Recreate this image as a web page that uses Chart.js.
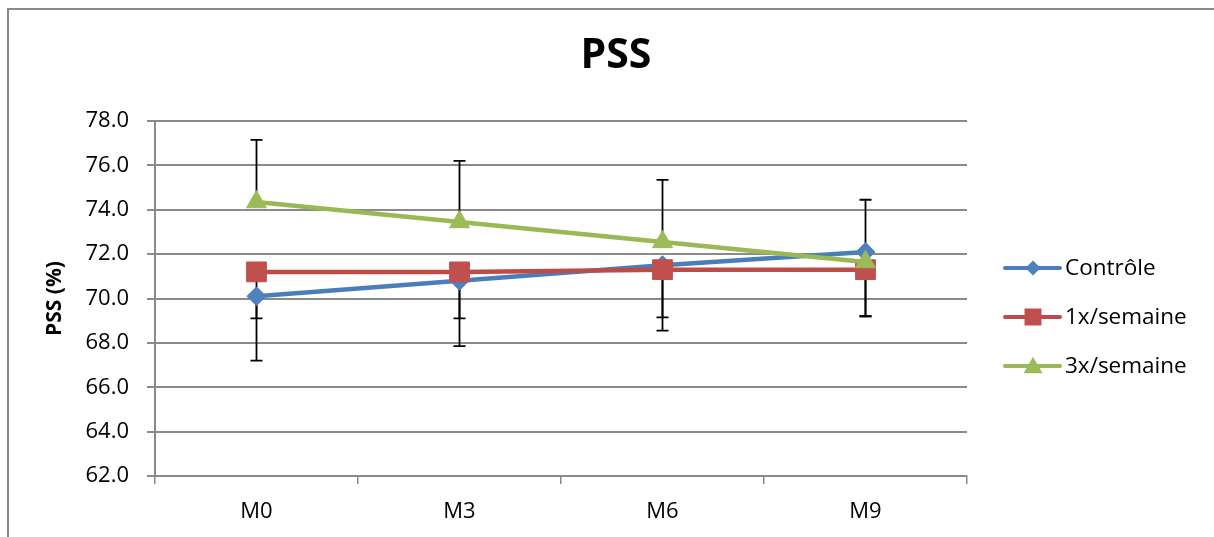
<!DOCTYPE html>
<html>
<head>
<meta charset="utf-8">
<title>PSS</title>
<script src="https://cdn.jsdelivr.net/npm/chart.js@4.4.1/dist/chart.umd.min.js"></script>
<style>
  html, body { margin: 0; padding: 0; background: #fff; }
  canvas { display: block; }
</style>
</head>
<body>
<canvas id="chart-pss" width="1214" height="537"></canvas>
<script>
const months = ['M0', 'M3', 'M6', 'M9']

const controle = [70.1, 70.8, 71.5, 72.1]
const controleErrDown = [2.9, 2.95, 2.95, 2.9]

const semaine1 = [71.2, 71.2, 71.3, 71.3]
const semaine1ErrDown = [2.1, 2.1, 2.15, 2.1]

const semaine3 = [74.35, 73.45, 72.55, 71.65]
const semaine3ErrUp = [2.8, 2.75, 2.8, 2.8]

Chart.defaults.font.family = '"Open Sans", sans-serif'
Chart.defaults.color = '#000'

const gridGray = '#8a8a8a'

function drawMarker(ctx, style, x, y, size) {
  ctx.beginPath()
  if (style === 'rectRot') {
    ctx.moveTo(x, y - size)
    ctx.lineTo(x + size, y)
    ctx.lineTo(x, y + size)
    ctx.lineTo(x - size, y)
  } else if (style === 'rect') {
    ctx.rect(x - size, y - size, size * 2, size * 2)
  } else {
    const h = size * 1.75
    ctx.moveTo(x, y - h / 2 - 1)
    ctx.lineTo(x + size, y + h / 2 - 1)
    ctx.lineTo(x - size, y + h / 2 - 1)
  }
  ctx.closePath()
  ctx.fill()
}

// outer frame (only left and top edges are visible in the picture)
const framePlugin = {
  id: 'frame',
  beforeDraw(chart) {
    const ctx = chart.ctx
    ctx.save()
    ctx.fillStyle = '#fff'
    ctx.fillRect(0, 0, chart.width, chart.height)
    ctx.strokeStyle = gridGray
    ctx.lineWidth = 2
    ctx.beginPath()
    ctx.moveTo(8, chart.height)
    ctx.lineTo(8, 9)
    ctx.lineTo(chart.width, 9)
    ctx.stroke()
    ctx.restore()
  }
}

// one-sided error bars, drawn under the lines
const errorBarPlugin = {
  id: 'errorBars',
  beforeDatasetsDraw(chart) {
    const ctx = chart.ctx
    const yScale = chart.scales.y
    ctx.save()
    ctx.strokeStyle = '#000'
    ctx.lineWidth = 1.8
    chart.data.datasets.forEach((ds, i) => {
      const meta = chart.getDatasetMeta(i)
      meta.data.forEach((pt, j) => {
        const v = ds.data[j]
        const ends = []
        if (ds.errUp) ends.push(v + ds.errUp[j])
        if (ds.errDown) ends.push(v - ds.errDown[j])
        ends.forEach(e => {
          const py = yScale.getPixelForValue(e)
          ctx.beginPath()
          ctx.moveTo(pt.x, pt.y)
          ctx.lineTo(pt.x, py)
          ctx.moveTo(pt.x - 6, py)
          ctx.lineTo(pt.x + 6, py)
          ctx.stroke()
        })
      })
    })
    ctx.restore()
  }
}

// legend as a layout box on the right: line + marker + label
function makeLegendBox(chart) {
  const sizes = [7.5, 8.5, 9.5]
  return {
    position: 'right',
    weight: 0,
    fullSize: false,
    options: {},
    isHorizontal() { return false },
    update(maxWidth, maxHeight) {
      this.width = 247
      this.height = maxHeight
    },
    draw() {
      const ctx = chart.ctx
      const x0 = this.left + 38
      const yMid = this.top + this.height / 2 + 18.5
      chart.data.datasets.forEach((ds, i) => {
        const y = yMid + (i - 1) * 49
        ctx.save()
        ctx.strokeStyle = ds.borderColor
        ctx.lineWidth = 4
        ctx.lineCap = 'round'
        ctx.beginPath()
        ctx.moveTo(x0, y)
        ctx.lineTo(x0 + 55, y)
        ctx.stroke()
        ctx.fillStyle = ds.pointBackgroundColor
        drawMarker(ctx, ds.pointStyle, x0 + 28, y, sizes[i])
        ctx.fillStyle = '#000'
        ctx.font = '22.5px "Open Sans", sans-serif'
        ctx.textBaseline = 'middle'
        ctx.textAlign = 'left'
        ctx.fillText(ds.label, x0 + 60, y + 1)
        ctx.restore()
      })
    }
  }
}

const sideLegendPlugin = {
  id: 'sideLegend',
  beforeInit(chart) {
    Chart.layouts.addBox(chart, makeLegendBox(chart))
  }
}

const ctx = document.getElementById('chart-pss').getContext('2d')
new Chart(ctx, {
  type: 'line',
  data: {
    labels: months,
    datasets: [
      {
        label: 'Contrôle',
        data: controle,
        errDown: controleErrDown,
        borderColor: '#4A7EBB',
        pointBackgroundColor: '#4F81BD',
        pointBorderColor: '#4F81BD',
        pointStyle: 'rectRot',
        pointRadius: 9.5,
        borderWidth: 4.5,
        order: 3
      },
      {
        label: '1x/semaine',
        data: semaine1,
        errDown: semaine1ErrDown,
        borderColor: '#BE4B48',
        pointBackgroundColor: '#C0504D',
        pointBorderColor: '#C0504D',
        pointStyle: 'rect',
        pointRadius: 14,
        borderWidth: 4.5,
        order: 2
      },
      {
        label: '3x/semaine',
        data: semaine3,
        errUp: semaine3ErrUp,
        borderColor: '#98B954',
        pointBackgroundColor: '#9BBB59',
        pointBorderColor: '#9BBB59',
        pointStyle: 'triangle',
        pointRadius: 11.5,
        borderWidth: 4.5,
        order: 1
      }
    ]
  },
  options: {
    responsive: false,
    animation: false,
    layout: { padding: { left: 18, right: 0, top: 0, bottom: 0 } },
    elements: { line: { tension: 0, fill: false }, point: { pointBorderWidth: 1 } },
    plugins: {
      legend: { display: false },
      tooltip: { enabled: false },
      title: {
        display: true,
        text: 'PSS',
        font: { size: 41, weight: 'bold' },
        color: '#000',
        padding: { top: 32, bottom: 39.8 }
      }
    },
    scales: {
      x: {
        offset: true,
        afterFit: s => { s.height = 61 },
        grid: { offset: true, drawOnChartArea: false, tickLength: 8, color: gridGray, lineWidth: 1.5 },
        border: { color: gridGray, width: 2 },
        ticks: { font: { size: 22 }, color: '#000', padding: 15 }
      },
      y: {
        min: 62,
        max: 78,
        afterFit: s => { s.width = 137 },
        ticks: {
          stepSize: 2,
          font: { size: 22 },
          color: '#000',
          padding: 18,
          callback: v => v.toFixed(1)
        },
        grid: { color: gridGray, lineWidth: 2, tickLength: 8 },
        border: { color: gridGray, width: 2 },
        title: {
          display: true,
          text: 'PSS (%)',
          font: { size: 21, weight: 'bold' },
          color: '#000',
          padding: { top: 24.4, bottom: 0 }
        }
      }
    }
  },
  plugins: [framePlugin, errorBarPlugin, sideLegendPlugin]
})
</script>
</body>
</html>
